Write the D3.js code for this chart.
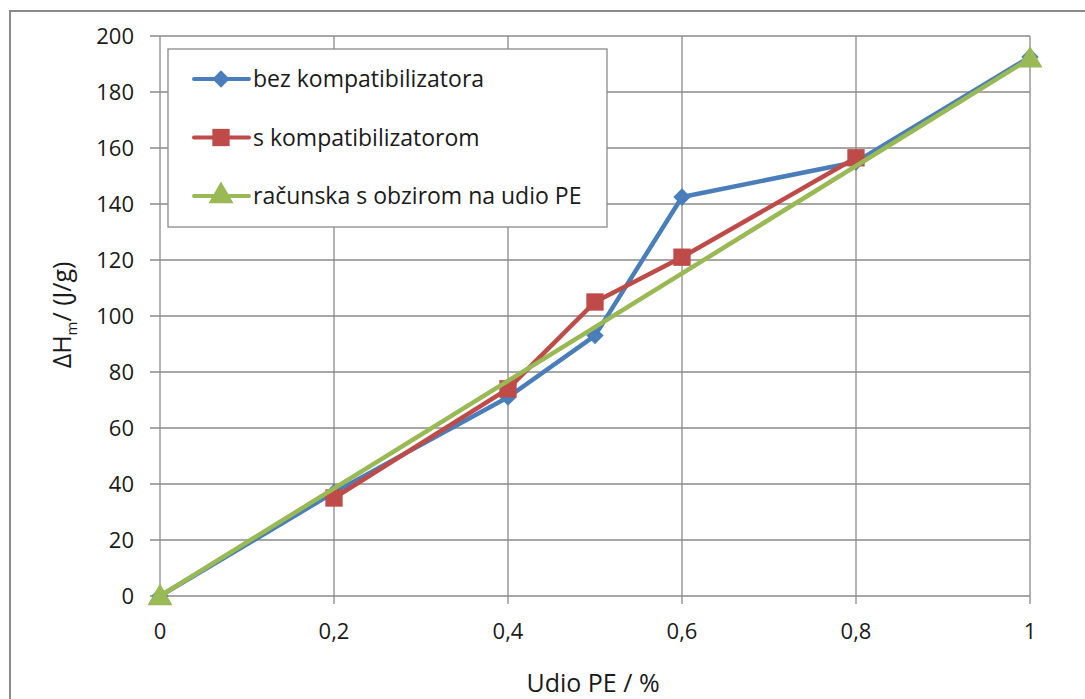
<!DOCTYPE html>
<html>
<head>
<meta charset="utf-8">
<script src="https://cdn.jsdelivr.net/npm/d3@7"></script>
<style>
  body { margin: 0; background: #fff; }
  svg { font-family: "Open Sans", "Noto Sans", sans-serif; }
</style>
</head>
<body>
<svg width="1085" height="699"></svg>
<script>
const seriesNames = ["bez kompatibilizatora", "s kompatibilizatorom", "računska s obzirom na udio PE"];
const bezX = [0, 0.2, 0.4, 0.5, 0.6, 0.8, 1];
const bezY = [0, 37, 71, 93, 142.5, 155, 192.5];
const sX = [0.2, 0.4, 0.5, 0.6, 0.8];
const sY = [35, 74, 105, 121, 156.5];
const racX = [0, 1];
const racY = [0, 192];
const xTicks = [0, 0.2, 0.4, 0.6, 0.8, 1];
const yTicks = [0, 20, 40, 60, 80, 100, 120, 140, 160, 180, 200];

const colors = ["#4a7ebb", "#be4b48", "#98b954"];
// diamond drawn as a square turned 45 degrees, like Excel's marker
const symbols = [d3.symbolSquare, d3.symbolSquare, d3.symbolTriangle];
const symSizes = [150, 300, 270];
const symRot = [45, 0, 0];

const svg = d3.select("svg");
const x = d3.scaleLinear().domain([0, 1]).range([160, 1030]);
const y = d3.scaleLinear().domain([0, 200]).range([596, 36]);
const grid = "#8a8a8a";
const ink = "#1a1a1a";

// outer chart frame
svg.append("rect").attr("x", 10).attr("y", 11).attr("width", 1100).attr("height", 720)
  .attr("fill", "none").attr("stroke", grid).attr("stroke-width", 2);

// grid lines
svg.append("g").selectAll("line").data(yTicks).join("line")
  .attr("x1", 150).attr("x2", x(1)).attr("y1", d => y(d)).attr("y2", d => y(d))
  .attr("stroke", grid).attr("stroke-width", 1.3);
svg.append("g").selectAll("line").data(xTicks).join("line")
  .attr("x1", d => x(d)).attr("x2", d => x(d)).attr("y1", y(200)).attr("y2", 604)
  .attr("stroke", grid).attr("stroke-width", 1.3);

// tick labels
const fmt = d => String(d).replace(".", ",");
svg.append("g").selectAll("text").data(yTicks).join("text")
  .attr("x", 134).attr("y", d => y(d)).attr("dy", "0.36em").attr("text-anchor", "end")
  .attr("font-size", 22).attr("fill", ink).text(d => d);
svg.append("g").selectAll("text").data(xTicks).join("text")
  .attr("x", d => x(d)).attr("y", 631).attr("dy", "0.36em").attr("text-anchor", "middle")
  .attr("font-size", 22).attr("fill", ink).text(fmt);

// axis titles
svg.append("text").attr("x", 593).attr("y", 683).attr("dy", "0.36em").attr("text-anchor", "middle")
  .attr("font-size", 25).attr("fill", ink).text("Udio PE / %");
const yt = svg.append("text").attr("transform", "translate(62,315) rotate(-90)")
  .attr("text-anchor", "middle").attr("dy", "0.36em").attr("font-size", 25).attr("fill", ink);
yt.append("tspan").text("ΔH");
yt.append("tspan").attr("font-size", 15).attr("dy", 6).text("m");
yt.append("tspan").attr("dy", -6).text("/ (J/g)");

// legend
const lg = svg.append("g");
lg.append("rect").attr("x", 168).attr("y", 49).attr("width", 439).attr("height", 178)
  .attr("fill", "#fff").attr("stroke", grid).attr("stroke-width", 1.3);
seriesNames.forEach((name, i) => {
  const ly = 79 + i * 58.5;
  lg.append("line").attr("x1", 194).attr("x2", 249).attr("y1", ly).attr("y2", ly)
    .attr("stroke", colors[i]).attr("stroke-width", 4).attr("stroke-linecap", "round");
  lg.append("path").attr("d", d3.symbol(symbols[i], symSizes[i])())
    .attr("transform", `translate(221,${ly}) rotate(${symRot[i]})`).attr("fill", colors[i]);
  lg.append("text").attr("x", 253).attr("y", ly).attr("dy", "0.36em")
    .attr("font-size", 23).attr("fill", ink).text(name);
});

// series
const series = [
  { xs: bezX, ys: bezY },
  { xs: sX, ys: sY },
  { xs: racX, ys: racY }
];
const line = d3.line().x(d => x(d[0])).y(d => y(d[1]));
series.forEach((s, i) => {
  const pts = s.xs.map((v, j) => [v, s.ys[j]]);
  const g = svg.append("g");
  g.append("path").datum(pts).attr("d", line).attr("fill", "none")
    .attr("stroke", colors[i]).attr("stroke-width", 4.5).attr("stroke-linejoin", "round");
  g.selectAll("path.m").data(pts).join("path").attr("class", "m")
    .attr("d", d3.symbol(symbols[i], symSizes[i])())
    .attr("transform", d => `translate(${x(d[0])},${y(d[1]) + (i === 2 ? 2 : 0)}) rotate(${symRot[i]})`)
    .attr("fill", colors[i]);
});
</script>
</body>
</html>
